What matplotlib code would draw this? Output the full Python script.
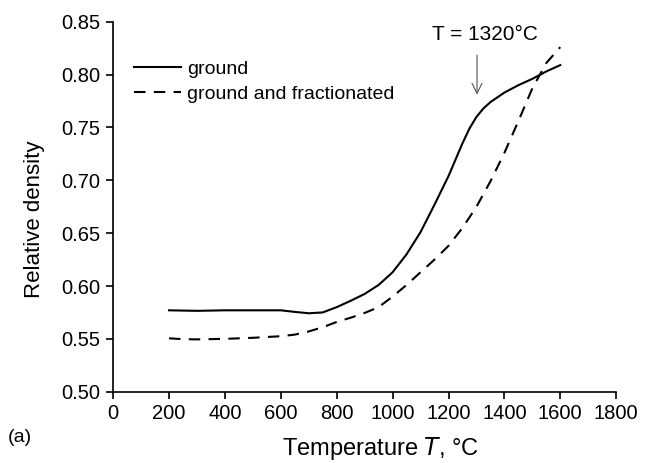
import numpy as np
import matplotlib
matplotlib.use("Agg")
import matplotlib.pyplot as plt

plt.rcParams['font.family'] = ['Liberation Sans', 'DejaVu Sans']

# ground
T_ground = [200, 300, 400, 500, 600, 650, 700, 750, 800, 850, 900, 950, 1000,
            1050, 1100, 1150, 1200, 1250, 1275, 1300, 1325, 1350, 1400, 1450,
            1500, 1550, 1600]
rho_ground = [0.577, 0.5765, 0.577, 0.577, 0.577, 0.5755, 0.5742, 0.575, 0.580,
              0.586, 0.5925, 0.601, 0.613, 0.630, 0.651, 0.677, 0.704, 0.735,
              0.749, 0.760, 0.768, 0.774, 0.783, 0.790, 0.796, 0.803, 0.809]

# ground and fractionated
T_frac = [200, 250, 300, 400, 500, 600, 650, 700, 750, 800, 850, 900, 950, 1000,
          1050, 1100, 1150, 1200, 1250, 1300, 1350, 1400, 1450, 1500, 1550, 1600]
rho_frac = [0.5505, 0.5497, 0.5495, 0.550, 0.551, 0.5525, 0.554, 0.557, 0.561,
            0.566, 0.570, 0.5745, 0.580, 0.590, 0.601, 0.613, 0.625, 0.638,
            0.655, 0.675, 0.699, 0.726, 0.756, 0.787, 0.811, 0.826]

x_ticks = np.arange(0, 1801, 200)
y_ticks = [0.50, 0.55, 0.60, 0.65, 0.70, 0.75, 0.80, 0.85]

fig = plt.figure(figsize=(6.5, 4.63), dpi=100)
ax = fig.add_axes([0.174, 0.154, 0.774, 0.799])

ax.plot(T_ground, rho_ground, color="black", lw=1.5, label="ground")
ax.plot(T_frac, rho_frac, color="black", lw=1.5, dashes=(5.5, 4),
        label="ground and fractionated")

ax.set_xlim(0, 1800)
ax.set_ylim(0.50, 0.85)
ax.set_xticks(x_ticks)
ax.set_yticks(y_ticks)
ax.set_yticklabels(["%.2f" % v for v in y_ticks])
ax.spines["top"].set_visible(False)
ax.spines["right"].set_visible(False)
ax.spines["left"].set_linewidth(1.2)
ax.spines["bottom"].set_linewidth(1.2)
ax.tick_params(direction="out", length=5, width=1.2, labelsize=14.5, pad=4)

ax.set_xlabel("Temperature $\\it{T}$, °C", fontsize=17)
ax.set_ylabel("Relative density", fontsize=16)
ax.xaxis.set_label_coords(0.531, -0.118)
ax.yaxis.set_label_coords(-0.135, 0.467)

ax.annotate("", xy=(1302, 0.7785), xytext=(1302, 0.821),
            arrowprops=dict(arrowstyle="->", color="#555555", lw=0.8,
                            mutation_scale=18))
ax.text(1330, 0.8375, "T = 1320°C", fontsize=15, ha="center", va="center")

ax.legend(loc="upper left", bbox_to_anchor=(0.042, 0.895), frameon=False,
          fontsize=14, handlelength=2.4, handletextpad=0.3, labelspacing=0.35,
          borderaxespad=0, borderpad=0)

fig.text(0.012, 0.054, "(a)", fontsize=14, ha="left", va="center")

fig.savefig("out.png", dpi=100)
